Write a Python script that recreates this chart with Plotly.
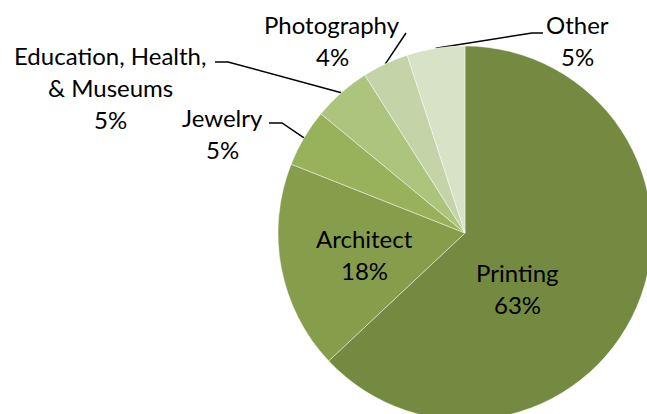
import math
import plotly.graph_objects as go

# Share of work by field
categories = ["Printing", "Architect", "Jewelry", "Education, Health, & Museums", "Photography", "Other"]
values = [63, 18, 5, 5, 4, 5]
label_lines = [["Printing"], ["Architect"], ["Jewelry"], ["Education, Health,", "& Museums"], ["Photography"], ["Other"]]

colors = ["#748A40", "#869E4C", "#97B25A", "#ACC47C", "#C4D4A8", "#D8E2C6"]

# Canvas and pie geometry (pixels); the pie runs past the right and bottom edges
W, H = 660, 430
CX, CY, R = 465, 233, 187

# Center of the first text line for each label (pixels)
label_pos = [(517, 272), (364, 238), (222, 117), (110, 55), (332, 24), (577, 24)]
LINE_H = 32
# Leader line bends/ends for the outside labels (pixels)
leader_tail = [None, None,
               [(282, 123), (269, 123)],
               [(228, 62), (215, 62)],
               [(406, 33)],
               [(532, 33), (543, 33)]]

FONT = dict(family="Lato, 'Open Sans', sans-serif", size=24, color="#000000")

fig = go.Figure()

fig.add_trace(go.Pie(
    labels=categories,
    values=values,
    sort=False,
    direction="clockwise",
    rotation=0,
    marker=dict(colors=colors, line=dict(color="rgba(255,255,255,0.55)", width=0.8)),
    textinfo="none",
    hoverinfo="label+percent",
    showlegend=False,
    domain=dict(x=[(CX - R) / W, (CX + R) / W], y=[1 - (CY + R) / H, 1 - (CY - R) / H]),
))

total = sum(values)
cum = 0.0
annotations = []
for name, v, lines, (lx, ly), tail in zip(categories, values, label_lines, label_pos, leader_tail):
    mid = (cum + v / 2) / total
    cum += v
    pct = f"{round(100 * v / total)}%"
    for i, txt in enumerate(lines + [pct]):
        annotations.append(dict(x=lx, y=ly + i * LINE_H, xref="x", yref="y", text=txt,
                                showarrow=False, font=FONT, xanchor="center", yanchor="middle"))
    if tail:
        ang = 2 * math.pi * mid
        sx, sy = CX + R * math.sin(ang), CY - R * math.cos(ang)
        pts = [(sx, sy)] + tail
        fig.add_trace(go.Scatter(x=[p[0] for p in pts], y=[p[1] for p in pts], mode="lines",
                                 line=dict(color="#000000", width=1.5), hoverinfo="skip",
                                 showlegend=False))

fig.update_layout(
    width=W, height=H,
    margin=dict(l=0, r=0, t=0, b=0),
    paper_bgcolor="white", plot_bgcolor="rgba(0,0,0,0)",
    xaxis=dict(range=[0, W], visible=False, fixedrange=True),
    yaxis=dict(range=[H, 0], visible=False, fixedrange=True),
    annotations=annotations,
)

fig.write_html("out.html", post_script="document.body.style.margin='0';document.body.style.overflow='hidden';")
